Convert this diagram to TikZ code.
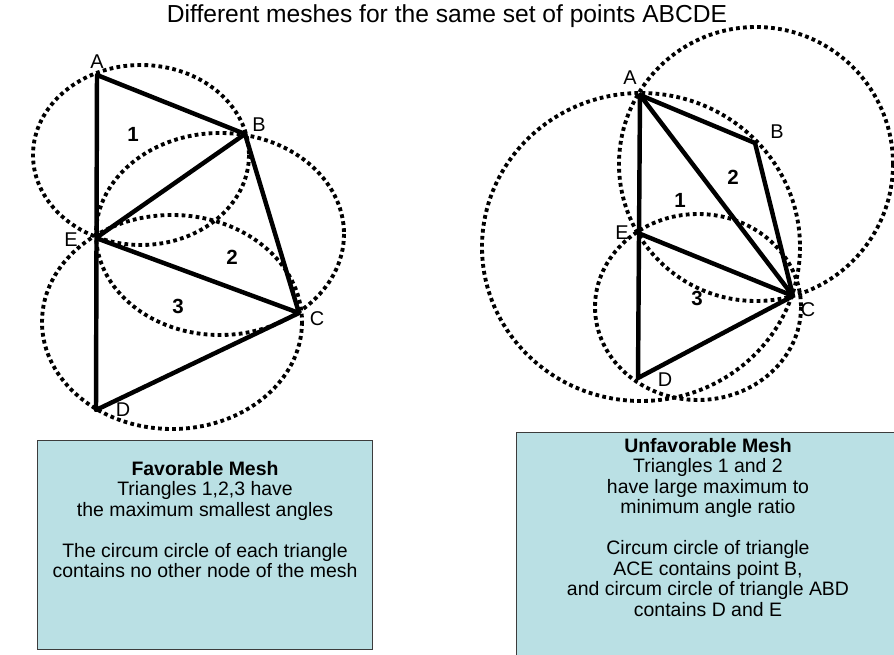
\documentclass[tikz,border=0pt]{standalone}
\usepackage{fontspec}
\setmainfont{Liberation Sans}
\definecolor{boxfill}{RGB}{186,224,228}
\definecolor{boxedge}{RGB}{60,60,60}
\tikzset{
  meshline/.style={
    line width=3.8pt,
    line join=round
  },
  circumcircle/.style={
    line width=3.3pt,
    dash pattern=on 3.2pt off 2.8pt
  },
  ptlabel/.style={
    inner sep=0pt,
    font=\fontsize{17}{19}\selectfont
  },
  trinum/.style={
    inner sep=0pt,
    font=\fontsize{17.5}{19}\selectfont\bfseries
  },
  notebox/.style={
    draw=boxedge,
    fill=boxfill,
    line width=0.8pt
  },
  notetext/.style={
    align=center,
    inner sep=0pt,
    anchor=north,
    font=\fontsize{16.6}{17.5}\selectfont
  }
}

\begin{document}
\begin{tikzpicture}[x=0.03cm, y=-0.03cm]
    \clip (0,0) rectangle (894,655);
    \node[anchor=base, inner sep=0pt, font=\fontsize{21}{24}\selectfont] (title) at (447,23)
        {Different meshes for the same set of points ABCDE};

    % favorable mesh (left)
    \coordinate (lA) at (97,75);
    \coordinate (lB) at (245,134);
    \coordinate (lC) at (299,313);
    \coordinate (lD) at (96,410);
    \coordinate (lE) at (96,238);

    \draw[circumcircle] (141,155) ellipse [x radius=108, y radius=90];
    \draw[circumcircle] (220,234) ellipse [x radius=124, y radius=101];
    \draw[circumcircle] (172,322) ellipse [x radius=130, y radius=107];

    \draw[meshline] (lA) -- (lB) -- (lC) -- (lD) -- cycle;
    \draw[meshline] (lE) -- (lB);
    \draw[meshline] (lE) -- (lC);

    \node[ptlabel] (lAlab) at (97,62) {A};
    \node[ptlabel] (lBlab) at (259,125) {B};
    \node[ptlabel] (lClab) at (317,319) {C};
    \node[ptlabel] (lDlab) at (123,410) {D};
    \node[ptlabel] (lElab) at (71,240) {E};
    \node[trinum] (ltri1) at (133,134) {1};
    \node[trinum] (ltri2) at (232,257) {2};
    \node[trinum] (ltri3) at (178,306) {3};

    % unfavorable mesh (right)
    \coordinate (rA) at (640,95);
    \coordinate (rB) at (755,143);
    \coordinate (rC) at (793,296);
    \coordinate (rD) at (638,378);
    \coordinate (rE) at (638,233);

    \draw[circumcircle] (756,164) circle [radius=137];
    \draw[circumcircle] (641,247) ellipse [x radius=159, y radius=154];
    \draw[circumcircle] (698,307) ellipse [x radius=103, y radius=93];

    \draw[meshline] (rA) -- (rB) -- (rC) -- (rD) -- cycle;
    \draw[meshline] (rA) -- (rC);
    \draw[meshline] (rE) -- (rC);

    \node[ptlabel] (rAlab) at (630,78) {A};
    \node[ptlabel] (rBlab) at (777,132) {B};
    \node[ptlabel] (rClab) at (808,310) {C};
    \node[ptlabel] (rDlab) at (665,380) {D};
    \node[ptlabel] (rElab) at (622,233) {E};
    \node[trinum] (rtri1) at (680,200) {1};
    \node[trinum] (rtri2) at (733,177) {2};
    \node[trinum] (rtri3) at (697,298) {3};

    % explanation boxes
    \path[notebox] (37,440) rectangle (372,649);
    \node[notetext] (favtext) at (205,461) {\textbf{Favorable Mesh}\\
        Triangles 1,2,3 have\\
        the maximum smallest angles\\[17.5pt]
        The circum circle of each triangle\\
        contains no other node of the mesh};

    \path[notebox] (516,432) rectangle (902,665);
    \node[notetext] (unfavtext) at (708,438) {\textbf{Unfavorable Mesh}\\
        Triangles 1 and 2\\
        have large maximum to\\
        minimum angle ratio\\[17.5pt]
        Circum circle of triangle\\
        ACE contains point B,\\
        and circum circle of triangle ABD\\
        contains D and E};
\end{tikzpicture}
\end{document}
